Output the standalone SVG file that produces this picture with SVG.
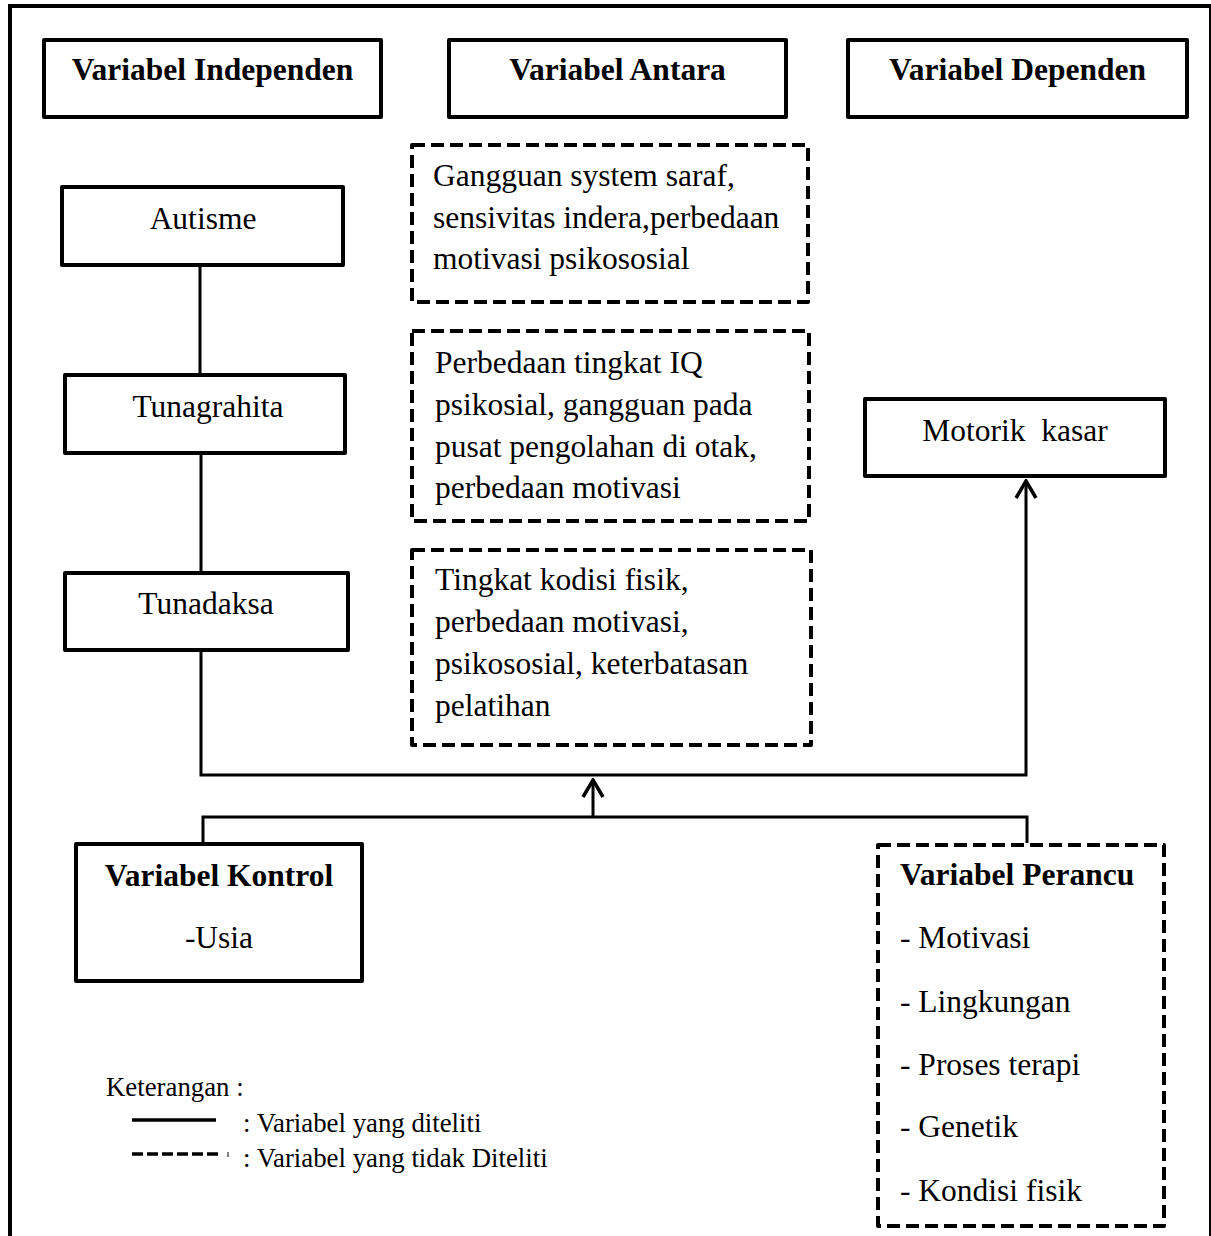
<svg xmlns="http://www.w3.org/2000/svg" width="1211" height="1236" viewBox="0 0 1211 1236">
<defs>
<style>
text{font-family:"Liberation Serif","Times New Roman",serif;fill:#000;}
.h{font-size:31.5px;font-weight:bold;}
.t{font-size:31.5px;}
.lg{font-size:26.8px;}
.box{fill:#fff;stroke:#000;stroke-width:4;stroke-linejoin:round;}
.dbox{fill:#fff;stroke:#000;stroke-width:4;stroke-dasharray:13 6;stroke-linejoin:round;}
.con{fill:none;stroke:#000;stroke-width:3;}
</style>
<marker id="arr" viewBox="-20 -12 22 24" refX="0" refY="0" markerWidth="22" markerHeight="24" markerUnits="userSpaceOnUse" orient="auto">
<path d="M-17,-10 L0,0 L-17,10" fill="none" stroke="#000" stroke-width="3.5"/>
</marker>
</defs>
<rect x="0" y="0" width="1211" height="1236" fill="#fff"/>
<rect x="10" y="6" width="1201" height="1250" fill="none" stroke="#000" stroke-width="4"/>

<g id="connectors">
<line class="con" x1="200" y1="267" x2="200" y2="373"/>
<line class="con" x1="201" y1="455" x2="201" y2="571"/>
<polyline class="con" points="201,652 201,775 1026,775 1026,481" marker-end="url(#arr)"/>
<polyline class="con" points="203,843 203,817 1027,817 1027,843"/>
<line class="con" x1="593" y1="817" x2="593" y2="780" marker-end="url(#arr)"/>
</g>

<g id="h-independen"><rect class="box" x="44" y="40" width="337" height="77"/><text class="h" x="212.5" y="80" text-anchor="middle">Variabel Independen</text></g>
<g id="h-antara"><rect class="box" x="449" y="40" width="337" height="77"/><text class="h" x="617.5" y="80" text-anchor="middle">Variabel Antara</text></g>
<g id="h-dependen"><rect class="box" x="848" y="40" width="339" height="77"/><text class="h" x="1017.5" y="80" text-anchor="middle">Variabel Dependen</text></g>

<g id="autisme"><rect class="box" x="62" y="187" width="281" height="78"/><text class="t" x="203" y="229" text-anchor="middle">Autisme</text></g>
<g id="tunagrahita"><rect class="box" x="65" y="375" width="280" height="78"/><text class="t" x="208" y="417" text-anchor="middle">Tunagrahita</text></g>
<g id="tunadaksa"><rect class="box" x="65" y="573" width="283" height="77"/><text class="t" x="206" y="614" text-anchor="middle">Tunadaksa</text></g>

<g id="antara1"><rect class="dbox" x="412" y="145" width="396" height="157"/>
<text class="t" x="433" y="186">Gangguan system saraf,</text>
<text class="t" x="433" y="228">sensivitas indera,perbedaan</text>
<text class="t" x="433" y="269">motivasi psikososial</text></g>
<g id="antara2"><rect class="dbox" x="412" y="331" width="397" height="190"/>
<text class="t" x="435" y="373">Perbedaan tingkat IQ</text>
<text class="t" x="435" y="415">psikosial, gangguan pada</text>
<text class="t" x="435" y="457">pusat pengolahan di otak,</text>
<text class="t" x="435" y="498">perbedaan motivasi</text></g>
<g id="antara3"><rect class="dbox" x="412" y="550" width="399" height="195"/>
<text class="t" x="435" y="590">Tingkat kodisi fisik,</text>
<text class="t" x="435" y="632">perbedaan motivasi,</text>
<text class="t" x="435" y="674">psikososial, keterbatasan</text>
<text class="t" x="435" y="716">pelatihan</text></g>

<g id="motorik"><rect class="box" x="865" y="399" width="300" height="77"/><text class="t" x="1015" y="441" text-anchor="middle" xml:space="preserve">Motorik  kasar</text></g>

<g id="kontrol"><rect class="box" x="76" y="844" width="286" height="137"/>
<text class="h" x="219" y="886" text-anchor="middle">Variabel Kontrol</text>
<text class="t" x="219" y="948" text-anchor="middle">-Usia</text></g>

<g id="perancu"><rect class="dbox" x="878" y="845" width="286" height="381"/>
<text class="h" x="900" y="885">Variabel Perancu</text>
<text class="t" x="900" y="948">- Motivasi</text>
<text class="t" x="900" y="1012">- Lingkungan</text>
<text class="t" x="900" y="1075">- Proses terapi</text>
<text class="t" x="900" y="1137">- Genetik</text>
<text class="t" x="900" y="1201">- Kondisi fisik</text></g>

<g id="legend">
<text class="lg" x="106" y="1096">Keterangan :</text>
<line x1="132" y1="1120" x2="216" y2="1120" stroke="#000" stroke-width="3.5"/>
<text class="lg" x="243" y="1132">: Variabel yang diteliti</text>
<line x1="132" y1="1154" x2="222" y2="1154" stroke="#000" stroke-width="3.5" stroke-dasharray="11 4"/>
<line x1="228" y1="1152" x2="228" y2="1157" stroke="#000" stroke-width="1"/>
<text class="lg" x="243" y="1167">: Variabel yang tidak Diteliti</text>
</g>
</svg>
